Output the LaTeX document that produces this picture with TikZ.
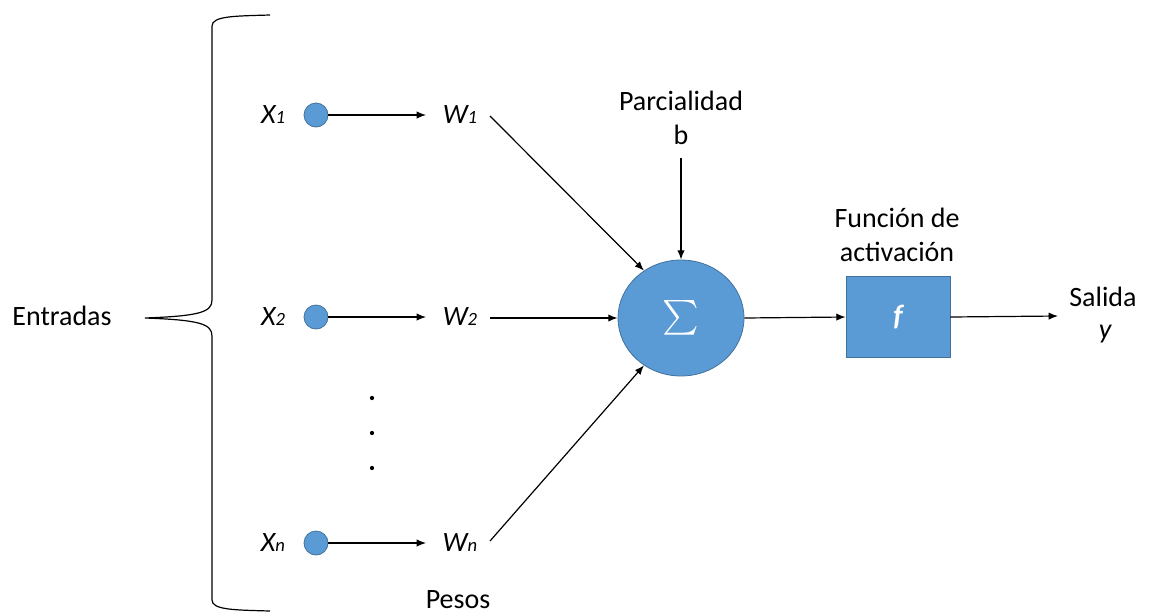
\documentclass[tikz,border=0pt]{standalone}
\usepackage{fontspec}
\setmainfont{Carlito}
\usetikzlibrary{arrows.meta,shapes.geometric}
\definecolor{nblue}{HTML}{5B9BD5}
\definecolor{nedge}{HTML}{41719C}
\newcommand{\sbs}[1]{{\fontsize{14}{14}\selectfont #1}}
\begin{document}
\begin{tikzpicture}[x=0.75pt,y=-0.75pt,
  lbl/.style={font=\fontsize{21}{26}\selectfont, inner sep=0pt, align=center},
  var/.style={font=\fontsize{21}{26}\selectfont\itshape, inner sep=0pt},
  dot/.style={circle, fill=nblue, draw=nedge, line width=0.6pt, minimum size=18pt, inner sep=0pt},
  conn/.style={line width=0.9pt, -{Latex[length=7pt,width=5.5pt]}},
  plain/.style={line width=0.9pt}]
\useasboundingbox (0,0) rectangle (1149,615);

% brace
\draw[line width=0.9pt] (270,15) .. controls (235,16) and (212,16) .. (212,26)
  -- (212,300) .. controls (212,312) and (200,316) .. (145,318)
  .. controls (200,320) and (212,324) .. (212,336)
  -- (212,600) .. controls (212,610) and (235,610) .. (270,611);
\node[lbl] (ent) at (62,316) {Entradas};

% inputs
\node[var] (x1) at (273,115) {X\sbs{1}};
\node[var] (x2) at (273,317) {X\sbs{2}};
\node[var] (xn) at (273,543) {X\sbs{n}};
\node[dot] (c1) at (316,115) {};
\node[dot] (c2) at (316,317) {};
\node[dot] (cn) at (316,543) {};
\node[var] (w1) at (460,115) {W\sbs{1}};
\node[var] (w2) at (460,317) {W\sbs{2}};
\node[var] (wn) at (460,543) {W\sbs{n}};
\coordinate (a1) at (426,115);
\coordinate (a2) at (426,317);
\coordinate (an) at (426,543);
\draw[conn] (c1) -- (a1);
\draw[conn] (c2) -- (a2);
\draw[conn] (cn) -- (an);

% dots
\foreach \yy/\nm in {398/d1,433/d2,468/d3}
  \fill (372,\yy) coordinate (\nm) circle (1.6pt);

\node[lbl] (pesos) at (458,600) {Pesos};

% summation
\node[ellipse, fill=nblue, draw=nedge, line width=0.6pt, minimum width=94.5pt, minimum height=87pt, inner sep=0pt]
  (sum) at (681,318) {\color{white}\scalebox{2.6}{$\textstyle\sum$}};
\coordinate (s1) at (490,116);
\coordinate (s2) at (490,318);
\coordinate (sn) at (490,541);
\draw[conn] (s1) -- (sum.{128});
\draw[conn] (s2) -- (sum.west);
\draw[conn] (sn) -- (sum.{232});

\node[lbl] (parc) at (681,118) {Parcialidad\\b};
\coordinate (bt) at (681,158);
\draw[conn] (bt) -- (sum.north);

% activation
\node[rectangle, fill=nblue, draw=nedge, line width=0.6pt, minimum width=78pt, minimum height=61pt, inner sep=0pt]
  (f) at (898,317) {\color{white}\fontsize{22}{22}\selectfont\bfseries\itshape f};
\node[lbl] (fa) at (897,235) {Función de\\activación};
\draw[conn] (sum.east) -- (f.west);

\coordinate (out) at (1058,316);
\draw[conn] (f.east) -- (out);
\node[lbl] (sal) at (1103,297) {Salida};
\node[var] (y) at (1105,334) {y};
\end{tikzpicture}
\end{document}
